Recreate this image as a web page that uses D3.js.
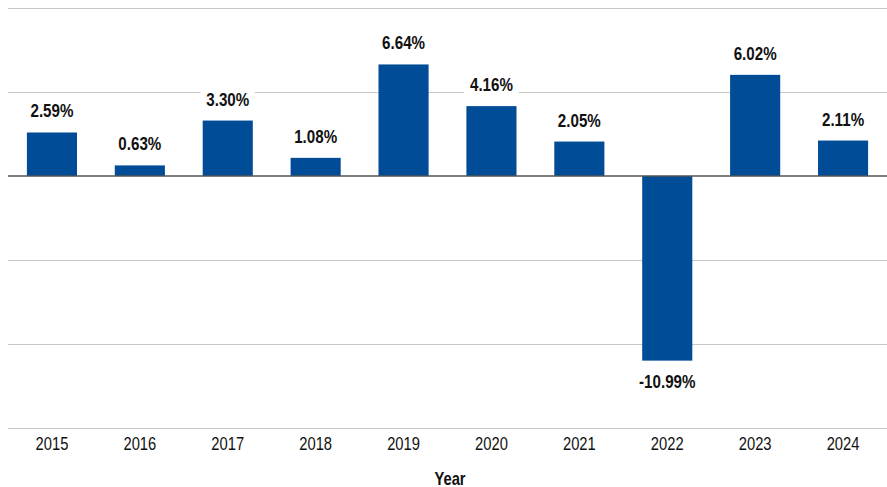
<!DOCTYPE html>
<html><head><meta charset="utf-8">
<script src="https://cdn.jsdelivr.net/npm/d3@7"></script>
<style>body{margin:0;background:#fff}svg{display:block;font-family:"Liberation Sans",Arial,sans-serif}</style>
</head><body><svg id="c" width="887" height="487"></svg>
<script>
const years = ["2015","2016","2017","2018","2019","2020","2021","2022","2023","2024"];
const returns = [2.59,0.63,3.30,1.08,6.64,4.16,2.05,-10.99,6.02,2.11];
const yTicks = [10,5,0,-5,-10,-15];
const xTitle = "Year";
const FONT = '"Liberation Sans",Arial,sans-serif';
const SX = 0.82;

const svg = d3.select("#c");
const x = d3.scaleBand().domain(years).range([8,887]).paddingInner(0.43).paddingOuter(0.215);
const y = d3.scaleLinear().domain([-15,10]).range([428,8]);

svg.append("g").selectAll("line").data(yTicks.filter(d=>d!==0)).join("line")
  .attr("x1",8).attr("x2",887).attr("y1",d=>y(d)+0.5).attr("y2",d=>y(d)+0.5)
  .attr("stroke","#c8c8c8").attr("stroke-width",1.2);

svg.append("g").selectAll("rect").data(years).join("rect")
  .attr("x",d=>x(d)).attr("width",x.bandwidth())
  .attr("y",(d,i)=>y(Math.max(0,returns[i])))
  .attr("height",(d,i)=>Math.abs(y(returns[i])-y(0)))
  .attr("fill","#004c97");

svg.append("line").attr("x1",8).attr("x2",887).attr("y1",y(0)).attr("y2",y(0))
  .attr("stroke","#555").attr("stroke-width",1.5);

const lg = svg.append("g").selectAll("g").data(years).join("g");
lg.each(function(d,i){
  const v = returns[i];
  const cx = x(d)+x.bandwidth()/2;
  const by = v>=0 ? y(v)-15 : y(v)+27;
  const g = d3.select(this).attr("transform",`translate(${cx},${by}) scale(${SX},1)`);
  const t = g.append("text").attr("x",0).attr("y",0).attr("text-anchor","middle")
    .attr("font-size",18.5).attr("font-weight","bold").attr("fill","#111")
    .attr("font-family",FONT)
    .text(v.toFixed(2)+"%");
  const bb = t.node().getBBox();
  g.insert("rect","text").attr("x",bb.x-7).attr("y",bb.y-2).attr("width",bb.width+14).attr("height",bb.height+4).attr("fill","#fff");
});

const xa = svg.append("g").attr("transform","translate(0,428)")
  .call(d3.axisBottom(x).tickSize(0).tickPadding(9));
xa.select(".domain").remove();
xa.selectAll(".tick text").attr("font-size",18).attr("fill","#111").attr("font-family",FONT)
  .attr("transform",`scale(${SX},1)`)
  .attr("x",0);

svg.append("g").attr("transform",`translate(450,485) scale(${SX},1)`)
  .append("text").attr("text-anchor","middle")
  .attr("font-family",FONT)
  .attr("font-size",18).attr("font-weight","bold").attr("fill","#111").text(xTitle);
</script></body></html>
